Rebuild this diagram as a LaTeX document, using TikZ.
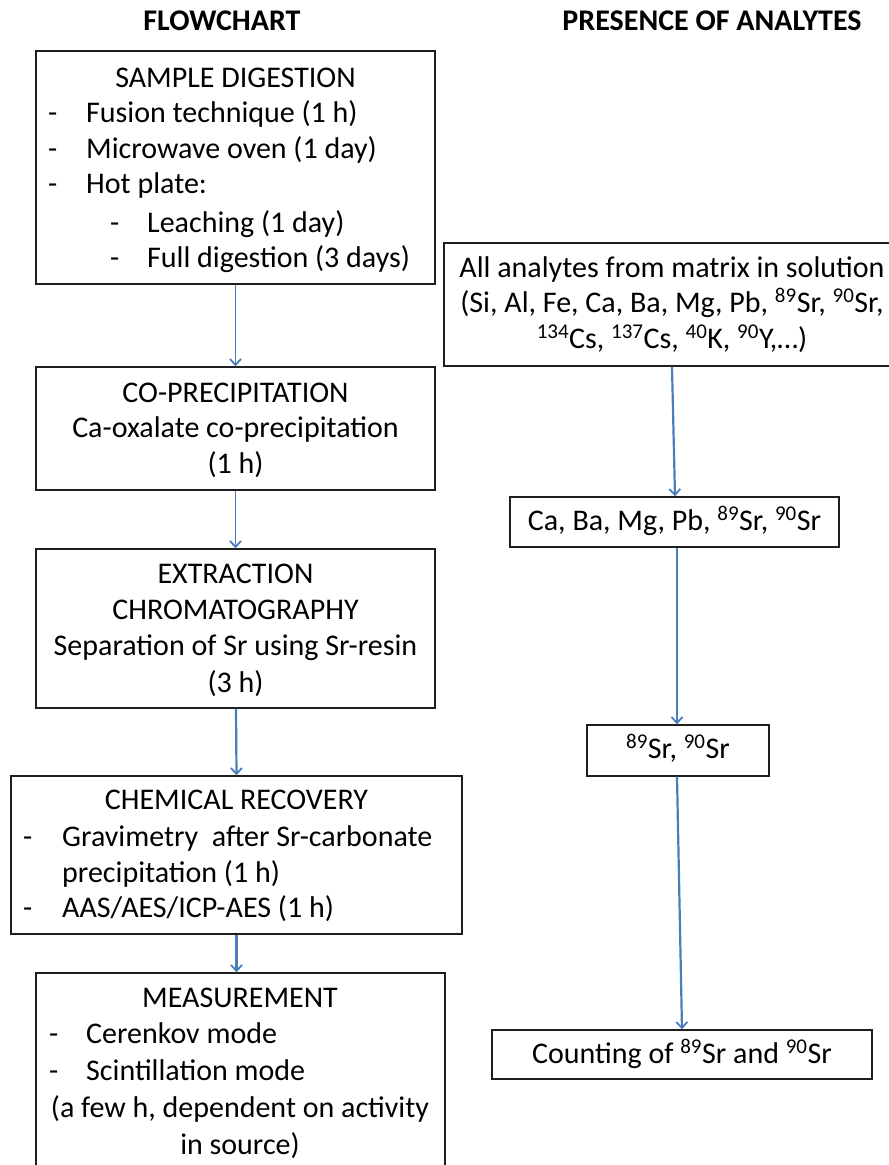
\documentclass[tikz,border=0pt]{standalone}
\usepackage{fontspec}
\setmainfont{Carlito}
\usetikzlibrary{arrows.meta}
\definecolor{arrowblue}{RGB}{74,126,187}
\definecolor{boxline}{RGB}{30,30,30}
\tikzset{
  box/.style={draw=boxline, line width=1.4pt, rectangle, inner sep=0pt},
  txt/.style={inner sep=0pt, font=\fontsize{30}{36}\selectfont, text=black},
  ttl/.style={inner sep=0pt, font=\fontsize{30}{34}\selectfont\bfseries, text=black},
  thinarrow/.style={draw=arrowblue, line width=1.1pt, -{Straight Barb[length=6pt,width=11pt,line width=1.8pt]}},
  thickarrow/.style={draw=arrowblue, line width=2.2pt, -{Straight Barb[length=6pt,width=11pt,line width=1.8pt]}},
}
\begin{document}
\begin{tikzpicture}[x=1pt,y=-1pt]
\useasboundingbox (0,0) rectangle (889,1165);
\clip (0,0) rectangle (889,1165);

% titles
\node[ttl, anchor=base] (title1) at (222,30) {FLOWCHART};
\node[ttl, anchor=base] (title2) at (712,30) {PRESENCE OF ANALYTES};

% left boxes
\node[box, minimum width=399pt, minimum height=233pt] (b1) at (235.5,167.5) {};
\node[box, minimum width=399pt, minimum height=123pt] (b2) at (235.5,428.5) {};
\node[box, minimum width=399pt, minimum height=159pt] (b3) at (235.5,628.5) {};
\node[box, minimum width=451pt, minimum height=158pt] (b4) at (236.5,855) {};
\node[box, minimum width=409pt, minimum height=240pt] (b5) at (240.5,1093) {};

% box 1 text
\node[txt, anchor=base] (b1t0) at (235.5,87) {SAMPLE DIGESTION};
\node[txt, anchor=base west] (b1d1) at (48,122) {-};
\node[txt, anchor=base west] (b1t1) at (86,122) {Fusion technique (1 h)};
\node[txt, anchor=base west] (b1d2) at (48,158) {-};
\node[txt, anchor=base west] (b1t2) at (86,158) {Microwave oven (1 day)};
\node[txt, anchor=base west] (b1d3) at (48,193) {-};
\node[txt, anchor=base west] (b1t3) at (86,193) {Hot plate:};
\node[txt, anchor=base west] (b1d4) at (110,232) {-};
\node[txt, anchor=base west] (b1t4) at (147,232) {Leaching (1 day)};
\node[txt, anchor=base west] (b1d5) at (110,267) {-};
\node[txt, anchor=base west] (b1t5) at (147,267) {Full digestion (3 days)};

% box 2 text
\node[txt, anchor=base] (b2t0) at (235.5,402) {CO-PRECIPITATION};
\node[txt, anchor=base] (b2t1) at (235.5,437) {Ca-oxalate co-precipitation};
\node[txt, anchor=base] (b2t2) at (235.5,473) {(1 h)};

% box 3 text
\node[txt, anchor=base] (b3t0) at (235.5,583) {EXTRACTION};
\node[txt, anchor=base] (b3t1) at (235.5,619) {CHROMATOGRAPHY};
\node[txt, anchor=base] (b3t2) at (235.5,655) {Separation of Sr using Sr-resin};
\node[txt, anchor=base] (b3t3) at (235.5,692) {(3 h)};

% box 4 text
\node[txt, anchor=base] (b4t0) at (236.5,809) {CHEMICAL RECOVERY};
\node[txt, anchor=base west] (b4d1) at (23,846) {-};
\node[txt, anchor=base west] (b4t1) at (62,846) {Gravimetry\ \ after Sr-carbonate};
\node[txt, anchor=base west] (b4t2) at (62,882) {precipitation (1 h)};
\node[txt, anchor=base west] (b4d3) at (23,917) {-};
\node[txt, anchor=base west] (b4t3) at (62,917) {AAS/AES/ICP-AES (1 h)};

% box 5 text
\node[txt, anchor=base] (b5t0) at (240,1007) {MEASUREMENT};
\node[txt, anchor=base west] (b5d1) at (49,1043) {-};
\node[txt, anchor=base west] (b5t1) at (86,1043) {Cerenkov mode};
\node[txt, anchor=base west] (b5d2) at (49,1080) {-};
\node[txt, anchor=base west] (b5t2) at (86,1080) {Scintillation mode};
\node[txt, anchor=base] (b5t3) at (240,1117) {(a few h, dependent on activity};
\node[txt, anchor=base] (b5t4) at (240,1154) {in source)};

% right boxes
\node[box, minimum width=449pt, minimum height=123pt] (rA) at (668.5,304.5) {};
\node[box, minimum width=329pt, minimum height=50pt] (rB) at (674.5,522) {};
\node[box, minimum width=182pt, minimum height=51pt] (rC) at (678,750.5) {};
\node[box, minimum width=380pt, minimum height=49pt] (rD) at (682,1054.5) {};

\node[txt, anchor=base] (rAt0) at (672,277) {All analytes from matrix in solution};
\node[txt, anchor=base] (rAt1) at (672,312) {(Si, Al, Fe, Ca, Ba, Mg, Pb, \textsuperscript{89}Sr, \textsuperscript{90}Sr,};
\node[txt, anchor=base] (rAt2) at (672,348) {\textsuperscript{134}Cs, \textsuperscript{137}Cs, \textsuperscript{40}K, \textsuperscript{90}Y,\dots)};
\node[txt, anchor=base] (rBt) at (674.5,530) {Ca, Ba, Mg, Pb, \textsuperscript{89}Sr, \textsuperscript{90}Sr};
\node[txt, anchor=base] (rCt) at (678,758) {\textsuperscript{89}Sr, \textsuperscript{90}Sr};
\node[txt, anchor=base] (rDt) at (682,1063) {Counting of \textsuperscript{89}Sr and \textsuperscript{90}Sr};

% left arrows
\draw[thinarrow] (b1.south) -- (b2.north);
\draw[thinarrow] (b2.south) -- (b3.north);
\draw[thickarrow] ([xshift=0.5pt]b3.south) -- (b4.north);
\draw[thickarrow] (b4.south) -- ([xshift=-4pt]b5.north);

% right arrows
\draw[thickarrow] ([xshift=3.5pt]rA.south) -- ([xshift=0.5pt]rB.north);
\draw[thickarrow] ([xshift=2.5pt]rB.south) -- ([xshift=-1pt]rC.north);
\draw[thickarrow] ([xshift=-1pt]rC.south) -- (rD.north);
\end{tikzpicture}
\end{document}
